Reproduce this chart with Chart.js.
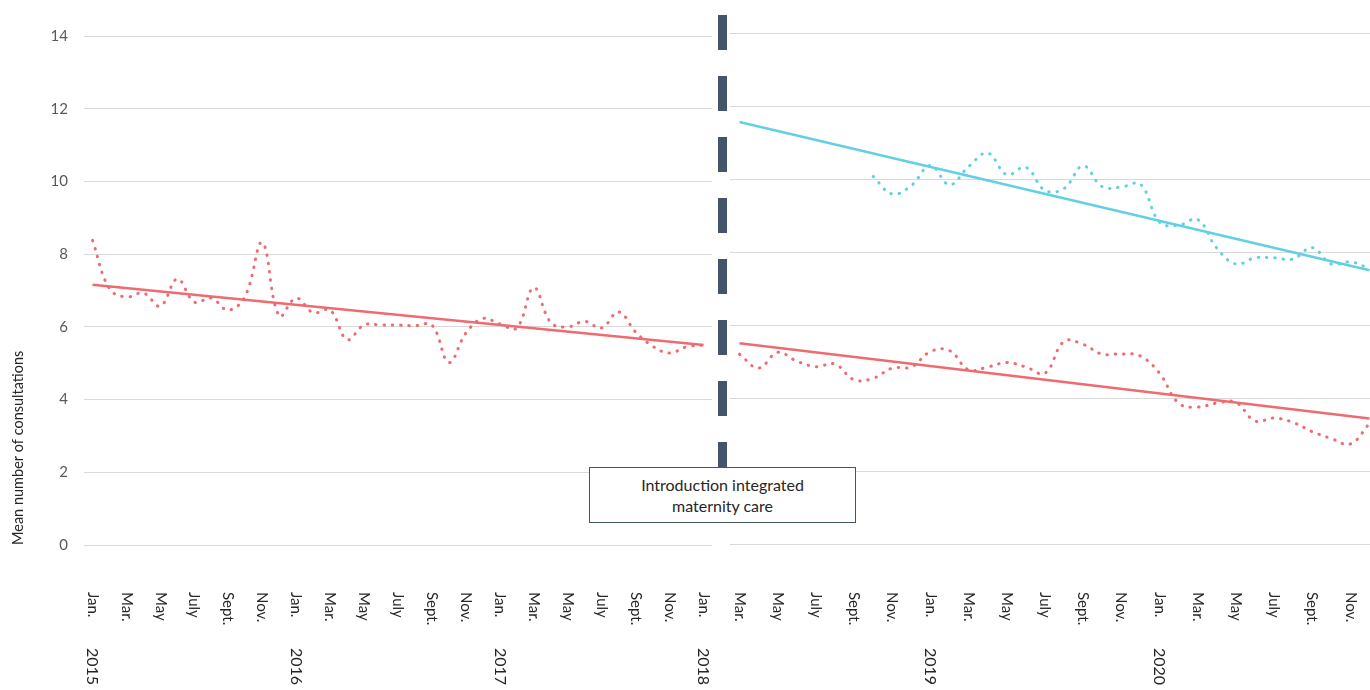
<!DOCTYPE html>
<html>
<head>
<meta charset="utf-8">
<script src="https://cdn.jsdelivr.net/npm/chart.js@4/dist/chart.umd.min.js"></script>
<style>
  html, body { margin: 0; padding: 0; background: #fff; overflow: hidden; }
  body { width: 1370px; height: 690px; position: relative; font-family: Lato, "Open Sans", sans-serif; }
  canvas { position: absolute; top: 0; }
  #leftChart { left: 0; }
  #rightChart { left: 720px; }
  .divider {
    position: absolute; left: 718px; top: 15px; width: 9px; height: 452px;
    background: repeating-linear-gradient(to bottom, #44546A 0 35px, transparent 35px 61px);
  }
  .note {
    position: absolute; left: 589px; top: 467px; width: 265px; height: 54px;
    border: 1.3px solid #44546A; background: #fff; box-sizing: content-box;
    display: flex; align-items: center; justify-content: center; text-align: center;
    font: 16px Lato, "Open Sans", sans-serif; line-height: 21px; color: #262626;
  }
</style>
</head>
<body>
<canvas id="leftChart" width="720" height="690"></canvas>
<canvas id="rightChart" width="660" height="690"></canvas>
<div class="divider"></div>
<div class="note">Introduction integrated<br>maternity care</div>
<script>
// Before the introduction: Jan 2015 - Jan 2018
const leftCategories = [
  '2015-01','2015-02','2015-03','2015-04','2015-05','2015-06','2015-07','2015-08','2015-09','2015-10','2015-11','2015-12',
  '2016-01','2016-02','2016-03','2016-04','2016-05','2016-06','2016-07','2016-08','2016-09','2016-10','2016-11','2016-12',
  '2017-01','2017-02','2017-03','2017-04','2017-05','2017-06','2017-07','2017-08','2017-09','2017-10','2017-11','2017-12',
  '2018-01'
];
const leftMonthTicks = [
  'Jan.','','Mar.','','May','','July','','Sept.','','Nov.','',
  'Jan.','','Mar.','','May','','July','','Sept.','','Nov.','',
  'Jan.','','Mar.','','May','','July','','Sept.','','Nov.','',
  'Jan.'
];
const leftYearTicks = [
  '2015','','','','','','','','','','','',
  '2016','','','','','','','','','','','',
  '2017','','','','','','','','','','','',
  '2018'
];
const leftRed = [
  8.38, 7.05, 6.82, 6.93, 6.57, 7.32, 6.68, 6.79, 6.46, 6.85, 8.32, 6.30,
  6.79, 6.39, 6.46, 5.65, 6.05, 6.05, 6.05, 6.03, 6.05, 5.02, 5.83, 6.23,
  6.08, 5.97, 7.08, 6.12, 6.00, 6.15, 5.97, 6.41, 5.86, 5.47, 5.28, 5.45,
  5.50
];
const leftRedTrend = [7.16, 5.50];

// After the introduction: Mar 2018 - Dec 2020
const rightCategories = [
  '2018-03','2018-04','2018-05','2018-06','2018-07','2018-08','2018-09','2018-10','2018-11','2018-12',
  '2019-01','2019-02','2019-03','2019-04','2019-05','2019-06','2019-07','2019-08','2019-09','2019-10','2019-11','2019-12',
  '2020-01','2020-02','2020-03','2020-04','2020-05','2020-06','2020-07','2020-08','2020-09','2020-10','2020-11','2020-12'
];
const rightMonthTicks = [
  'Mar.','','May','','July','','Sept.','','Nov.','',
  'Jan.','','Mar.','','May','','July','','Sept.','','Nov.','',
  'Jan.','','Mar.','','May','','July','','Sept.','','Nov.',''
];
const rightYearTicks = [
  '','','','','','','','','','',
  '2019','','','','','','','','','','','',
  '2020','','','','','','','','','','',''
];
const rightRed = [
  5.20, 4.82, 5.25, 5.01, 4.86, 4.93, 4.50, 4.54, 4.82, 4.85,
  5.27, 5.30, 4.77, 4.85, 4.97, 4.85, 4.68, 5.55, 5.47, 5.20, 5.21, 5.15,
  4.68, 3.86, 3.75, 3.86, 3.88, 3.37, 3.45, 3.33, 3.08, 2.89, 2.74, 3.30
];
const rightCyan = [
  null, null, null, null, null, null, null, 10.07, 9.59, 9.82,
  10.37, 9.84, 10.34, 10.71, 10.12, 10.32, 9.69, 9.74, 10.36, 9.79, 9.78, 9.86,
  8.82, 8.73, 8.89, 8.11, 7.67, 7.84, 7.84, 7.81, 8.12, 7.67, 7.73, 7.55
];
const rightRedTrend = [5.50, 3.44];
const rightCyanTrend = [11.56, 7.50];

const RED = '#EE6B70';
const CYAN = '#62D0E2';
const GRID = '#D9D9D9';
const FONT = 'Lato, "Open Sans", sans-serif';

// Rotated month / year labels under the category axis (reading top to bottom)
const monthAxisLabels = {
  id: 'monthAxisLabels',
  afterDraw(chart, args, opts) {
    const ctx = chart.ctx;
    const xs = chart.scales.x;
    ctx.save();
    ctx.fillStyle = opts.color;
    ctx.textAlign = 'left';
    ctx.textBaseline = 'middle';
    [[opts.months, opts.monthTop, opts.monthFont], [opts.years, opts.yearTop, opts.yearFont]].forEach(([labels, top, font]) => {
      ctx.font = font;
      labels.forEach((text, i) => {
        if (!text) return;
        const x = xs.getPixelForValue(i);
        ctx.save();
        ctx.translate(x, top);
        ctx.rotate(Math.PI / 2);
        ctx.fillText(text, 0, 0);
        ctx.restore();
      });
    });
    ctx.restore();
  }
};

function dotted(label, data, color) {
  return {
    label, data, borderColor: color, borderWidth: 3,
    borderDash: [0.5, 7.8], borderCapStyle: 'round',
    tension: 0.4, pointRadius: 0, fill: false, spanGaps: false
  };
}
function trend(label, cats, ends, color) {
  return {
    label,
    data: [{ x: cats[0], y: ends[0] }, { x: cats[cats.length - 1], y: ends[1] }],
    borderColor: color, borderWidth: 2.5, tension: 0, pointRadius: 0, fill: false
  };
}

function baseOptions(cfg) {
  return {
    responsive: false,
    devicePixelRatio: 1,
    animation: false,
    layout: { padding: cfg.padding },
    plugins: {
      legend: { display: false },
      tooltip: { enabled: false },
      monthAxisLabels: {
        months: cfg.months, years: cfg.years,
        monthTop: 592, yearTop: 648,
        monthFont: '15px ' + FONT, yearFont: '16px ' + FONT, color: '#262626'
      }
    },
    scales: {
      x: {
        type: 'category',
        offset: true,
        grid: { display: false },
        border: { display: false },
        ticks: { display: false },
        afterFit: s => { s.height = cfg.xHeight; }
      },
      y: {
        min: 0, max: 14,
        ticks: {
          display: cfg.showY, stepSize: 2, padding: 16,
          color: '#595959', font: { family: FONT, size: 15 }
        },
        grid: { color: GRID, lineWidth: 1, drawTicks: false },
        border: { display: false },
        title: {
          display: cfg.showY, text: 'Mean number of consultations', align: 'start',
          color: '#262626', font: { family: FONT, size: 14.5 },
          padding: { top: 10, bottom: 0 }
        },
        afterFit: s => { s.width = cfg.yWidth; }
      }
    }
  };
}

new Chart(document.getElementById('leftChart'), {
  type: 'line',
  data: {
    labels: leftCategories,
    datasets: [
      dotted('Mean consultations', leftRed, RED),
      trend('Trend', leftCategories, leftRedTrend, RED)
    ]
  },
  options: baseOptions({
    padding: { left: 0, right: 8, top: 36, bottom: 0 },
    xHeight: 145, yWidth: 84, showY: true,
    months: leftMonthTicks, years: leftYearTicks
  }),
  plugins: [monthAxisLabels]
});

new Chart(document.getElementById('rightChart'), {
  type: 'line',
  data: {
    labels: rightCategories,
    datasets: [
      dotted('Mean consultations', rightRed, RED),
      trend('Trend', rightCategories, rightRedTrend, RED),
      dotted('Mean consultations (integrated care)', rightCyan, CYAN),
      trend('Trend (integrated care)', rightCategories, rightCyanTrend, CYAN)
    ]
  },
  options: baseOptions({
    padding: { left: 10, right: 1, top: 33, bottom: 0 },
    xHeight: 146, yWidth: 0, showY: false,
    months: rightMonthTicks, years: rightYearTicks
  }),
  plugins: [monthAxisLabels]
});
</script>
</body>
</html>
